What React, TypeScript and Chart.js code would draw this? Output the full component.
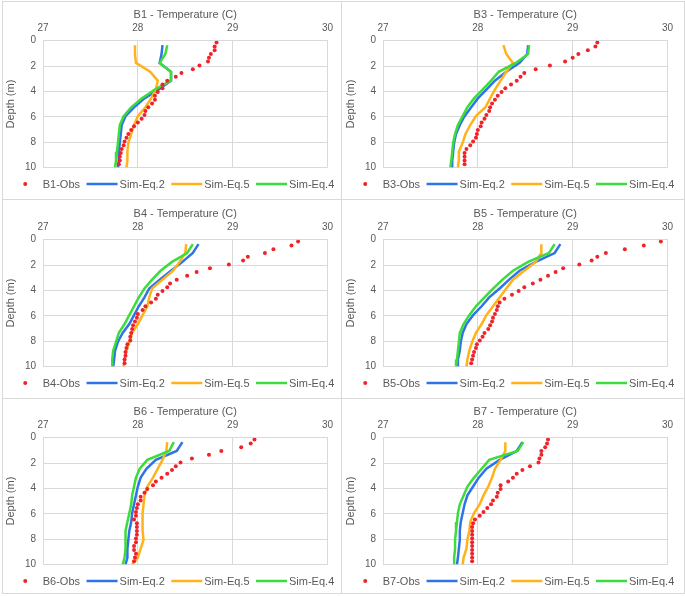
import React, { useEffect, useRef } from "react";
import { Chart, registerables } from "chart.js";

Chart.register(...registerables);

// ---------- data ----------
const obsDepths = [0.15, 0.45, 0.75, 1.05, 1.35, 1.65, 1.95, 2.25, 2.55, 2.85, 3.15, 3.45, 3.75, 4.05, 4.35, 4.65, 4.95, 5.25, 5.55, 5.85, 6.15, 6.45, 6.75, 7.05, 7.35, 7.65, 7.95, 8.25, 8.55, 8.85, 9.15, 9.45, 9.75];
const simDepths = [0.35, 1.05, 1.75, 2.45, 3.15, 3.85, 4.55, 5.25, 5.95, 6.65, 7.35, 8.05, 8.75, 9.45, 10];
const seriesNames = ["Obs", "Sim-Eq.2", "Sim-Eq.5", "Sim-Eq.4"];
const panelNames = ["B1", "B3", "B4", "B5", "B6", "B7"];

const b1Obs = [28.83, 28.81, 28.81, 28.77, 28.75, 28.74, 28.65, 28.58, 28.46, 28.40, 28.31, 28.26, 28.26, 28.21, 28.18, 28.18, 28.15, 28.11, 28.08, 28.07, 28.04, 28.00, 27.96, 27.93, 27.90, 27.88, 27.86, 27.85, 27.83, 27.82, 27.81, 27.81, 27.80];
const b1Eq2 = [28.26, 28.25, 28.23, 28.35, 28.35, 28.22, 28.07, 27.96, 27.87, 27.83, 27.82, 27.81, 27.80, 27.80, 27.79];
const b1Eq5 = [27.97, 27.97, 27.98, 28.13, 28.21, 28.19, 28.14, 28.08, 28.00, 27.96, 27.93, 27.90, 27.89, 27.89, 27.88];
const b1Eq4 = [28.31, 28.29, 28.23, 28.35, 28.35, 28.18, 28.04, 27.93, 27.85, 27.81, 27.80, 27.79, 27.78, 27.77, 27.76];

const b3Obs = [29.26, 29.24, 29.16, 29.06, 29.00, 28.92, 28.76, 28.61, 28.49, 28.45, 28.41, 28.35, 28.29, 28.25, 28.21, 28.18, 28.15, 28.13, 28.12, 28.09, 28.07, 28.04, 28.03, 28.00, 27.99, 27.98, 27.95, 27.92, 27.88, 27.86, 27.86, 27.86, 27.86];
const b3Eq2 = [28.53, 28.52, 28.44, 28.30, 28.18, 28.09, 28.00, 27.93, 27.86, 27.81, 27.77, 27.75, 27.74, 27.73, 27.73];
const b3Eq5 = [28.27, 28.30, 28.37, 28.30, 28.24, 28.18, 28.13, 28.08, 27.98, 27.92, 27.87, 27.84, 27.80, 27.80, 27.79];
const b3Eq4 = [28.54, 28.53, 28.40, 28.22, 28.14, 28.05, 27.96, 27.89, 27.84, 27.79, 27.76, 27.74, 27.73, 27.72, 27.71];

const b4Obs = [29.69, 29.62, 29.43, 29.34, 29.16, 29.11, 28.96, 28.76, 28.62, 28.52, 28.41, 28.34, 28.31, 28.26, 28.21, 28.19, 28.14, 28.08, 28.05, 28.00, 27.99, 27.97, 27.95, 27.94, 27.93, 27.92, 27.92, 27.89, 27.88, 27.87, 27.87, 27.86, 27.86];
const b4Eq2 = [28.64, 28.58, 28.47, 28.35, 28.23, 28.12, 28.07, 28.01, 27.96, 27.91, 27.84, 27.79, 27.76, 27.75, 27.74];
const b4Eq5 = [28.51, 28.50, 28.44, 28.37, 28.26, 28.15, 28.12, 28.10, 28.05, 28.00, 27.94, 27.91, 27.88, 27.86, 27.85];
const b4Eq4 = [28.58, 28.52, 28.36, 28.24, 28.15, 28.07, 28.01, 27.96, 27.91, 27.86, 27.80, 27.77, 27.74, 27.73, 27.73];

const b5Obs = [29.93, 29.75, 29.55, 29.35, 29.26, 29.20, 29.07, 28.90, 28.82, 28.74, 28.66, 28.58, 28.49, 28.43, 28.36, 28.28, 28.23, 28.21, 28.20, 28.18, 28.16, 28.15, 28.13, 28.11, 28.07, 28.05, 28.02, 27.99, 27.98, 27.96, 27.95, 27.94, 27.93];
const b5Eq2 = [28.87, 28.81, 28.61, 28.44, 28.33, 28.23, 28.12, 28.04, 27.95, 27.88, 27.84, 27.82, 27.81, 27.79, 27.79];
const b5Eq5 = [28.67, 28.67, 28.61, 28.49, 28.37, 28.30, 28.23, 28.16, 28.09, 28.04, 27.98, 27.94, 27.91, 27.89, 27.88];
const b5Eq4 = [28.81, 28.75, 28.53, 28.37, 28.26, 28.16, 28.07, 27.98, 27.91, 27.85, 27.81, 27.80, 27.79, 27.78, 27.77];

const b6Obs = [29.23, 29.19, 29.09, 28.88, 28.75, 28.57, 28.45, 28.40, 28.36, 28.31, 28.25, 28.19, 28.16, 28.10, 28.07, 28.03, 28.03, 28.00, 27.99, 27.98, 27.98, 27.96, 27.99, 27.99, 27.99, 27.99, 27.98, 27.98, 27.96, 27.96, 27.98, 27.97, 27.96];
const b6Eq2 = [28.47, 28.41, 28.19, 28.09, 28.03, 28.00, 27.98, 27.96, 27.94, 27.93, 27.91, 27.90, 27.89, 27.89, 27.87];
const b6Eq5 = [28.31, 28.30, 28.26, 28.21, 28.16, 28.10, 28.07, 28.06, 28.05, 28.05, 28.05, 28.06, 28.03, 28.00, 27.94];
const b6Eq4 = [28.38, 28.33, 28.10, 28.02, 27.98, 27.96, 27.94, 27.93, 27.91, 27.89, 27.87, 27.87, 27.87, 27.86, 27.84];

const b7Obs = [28.74, 28.73, 28.71, 28.67, 28.67, 28.65, 28.64, 28.55, 28.47, 28.41, 28.37, 28.32, 28.24, 28.24, 28.21, 28.20, 28.16, 28.14, 28.10, 28.06, 28.02, 27.97, 27.95, 27.94, 27.94, 27.94, 27.94, 27.94, 27.94, 27.94, 27.94, 27.94, 27.94];
const b7Eq2 = [28.47, 28.41, 28.23, 28.09, 28.01, 27.95, 27.89, 27.86, 27.84, 27.82, 27.81, 27.81, 27.80, 27.79, 27.78];
const b7Eq5 = [28.29, 28.29, 28.24, 28.18, 28.15, 28.11, 28.06, 28.02, 27.96, 27.92, 27.91, 27.89, 27.88, 27.85, 27.84];
const b7Eq4 = [28.48, 28.42, 28.12, 28.04, 27.96, 27.89, 27.85, 27.81, 27.79, 27.78, 27.77, 27.76, 27.76, 27.75, 27.75];

// ---------- style ----------
const FONT = "'Liberation Sans', Arial, sans-serif";
const TEXT = "#595959";
const GRID = "#d9d9d9";
const RED = "#f0222a";
const BLUE = "#2e74e6";
const ORANGE = "#ffb21a";
const GREEN = "#3cdc3c";

const panels = [
  { name: panelNames[0], obs: b1Obs, eq2: b1Eq2, eq5: b1Eq5, eq4: b1Eq4 },
  { name: panelNames[1], obs: b3Obs, eq2: b3Eq2, eq5: b3Eq5, eq4: b3Eq4 },
  { name: panelNames[2], obs: b4Obs, eq2: b4Eq2, eq5: b4Eq5, eq4: b4Eq4 },
  { name: panelNames[3], obs: b5Obs, eq2: b5Eq2, eq5: b5Eq5, eq4: b5Eq4 },
  { name: panelNames[4], obs: b6Obs, eq2: b6Eq2, eq5: b6Eq5, eq4: b6Eq4 },
  { name: panelNames[5], obs: b7Obs, eq2: b7Eq2, eq5: b7Eq5, eq4: b7Eq4 },
];

const CW = 338;
const CH = 196;
const colX = [3, 343];
const rowY = [2, 201, 399];

const legendPlugin = {
  id: "excelLegend",
  afterDraw(chart: any) {
    const ctx = chart.ctx as CanvasRenderingContext2D;
    const ds = chart.data.datasets;
    ctx.save();
    ctx.font = `11px ${FONT}`;
    const sym = 31;
    const gapText = 2;
    const gapItem = 6.5;
    const widths = ds.map((d: any) => ctx.measureText(d.label).width);
    const total = widths.reduce((a: number, w: number) => a + sym + gapText + w, 0) + gapItem * (ds.length - 1);
    let x = (chart.width - total) / 2;
    const y = chart.chartArea.bottom + 16.5;
    ds.forEach((d: any, i: number) => {
      if (d.showLine) {
        ctx.strokeStyle = d.borderColor;
        ctx.lineWidth = d.borderWidth;
        ctx.lineCap = "butt";
        ctx.beginPath();
        ctx.moveTo(x, y);
        ctx.lineTo(x + sym, y);
        ctx.stroke();
      } else {
        ctx.fillStyle = d.backgroundColor;
        ctx.beginPath();
        ctx.arc(x + sym / 2, y, 2, 0, Math.PI * 2);
        ctx.fill();
      }
      ctx.fillStyle = TEXT;
      ctx.textBaseline = "middle";
      ctx.textAlign = "left";
      ctx.fillText(d.label, x + sym + gapText, y + 0.5);
      x += sym + gapText + widths[i] + gapItem;
    });
    ctx.restore();
  },
};

function Panel({ p, left, top }: { p: any; left: number; top: number }) {
  const ref = useRef<HTMLCanvasElement | null>(null);
  useEffect(() => {
    if (!ref.current) return;
    const toPts = (temps: number[], depths: number[]) => temps.map((t, i) => ({ x: t, y: depths[i] }));
    const lineDs = (label: string, temps: number[], color: string, order: number) => ({
      label,
      data: toPts(temps, simDepths),
      showLine: true,
      borderColor: color,
      backgroundColor: color,
      borderWidth: 2.5,
      pointRadius: 0,
      tension: 0,
      order,
    });
    const chart = new Chart(ref.current, {
      type: "scatter",
      data: {
        datasets: [
          {
            label: `${p.name}-${seriesNames[0]}`,
            data: toPts(p.obs, obsDepths),
            showLine: false,
            backgroundColor: RED,
            borderColor: RED,
            borderWidth: 0,
            pointRadius: 2,
            order: 0,
          },
          lineDs(seriesNames[1], p.eq2, BLUE, 3),
          lineDs(seriesNames[2], p.eq5, ORANGE, 2),
          lineDs(seriesNames[3], p.eq4, GREEN, 1),
        ],
      } as any,
      options: {
        animation: false,
        responsive: false,
        events: [],
        layout: { padding: { left: 0, right: 13.5, top: 0, bottom: 30.5 } },
        plugins: {
          legend: { display: false },
          tooltip: { enabled: false },
          title: {
            display: true,
            fullSize: false,
            text: `${p.name} - Temperature (C)`,
            color: TEXT,
            font: { family: FONT, size: 11, weight: "normal" },
            padding: { top: 6, bottom: 0 },
          },
        },
        scales: {
          x: {
            type: "linear",
            position: "top",
            min: 27,
            max: 30,
            ticks: { stepSize: 1, color: TEXT, font: { family: FONT, size: 10 }, padding: 6 },
            grid: { color: GRID, drawTicks: false, lineWidth: 1 },
            border: { color: GRID, width: 1 },
            afterFit: (s: any) => {
              s.height = 19.5;
            },
          },
          y: {
            type: "linear",
            reverse: true,
            min: 0,
            max: 10,
            ticks: { stepSize: 2, color: TEXT, font: { family: FONT, size: 10 }, padding: 7 },
            grid: { color: GRID, drawTicks: false, lineWidth: 1 },
            border: { color: GRID, width: 1 },
            title: {
              display: true,
              text: "Depth (m)",
              color: TEXT,
              font: { family: FONT, size: 11, weight: "normal" },
              padding: { top: 1.5, bottom: 0 },
            },
            afterFit: (s: any) => {
              s.width = 40;
            },
          },
        },
      } as any,
      plugins: [legendPlugin],
    });
    return () => chart.destroy();
  }, [p]);
  return (
    <canvas
      ref={ref}
      width={CW}
      height={CH}
      style={{ position: "absolute", left, top, width: CW, height: CH }}
    />
  );
}

const boxes = [
  { left: 2, top: 1, width: 340, height: 199 },
  { left: 341, top: 1, width: 344, height: 199 },
  { left: 2, top: 199, width: 340, height: 200 },
  { left: 341, top: 199, width: 344, height: 200 },
  { left: 2, top: 398, width: 340, height: 196 },
  { left: 341, top: 398, width: 344, height: 196 },
];

export default function App() {
  return (
    <div style={{ position: "fixed", left: 0, top: 0, width: 685, height: 596, background: "#ffffff", overflow: "hidden" }}>
      {panels.map((p, i) => (
        <Panel key={p.name} p={p} left={colX[i % 2]} top={rowY[Math.floor(i / 2)]} />
      ))}
      {boxes.map((b, i) => (
        <div
          key={i}
          style={{
            position: "absolute",
            left: b.left,
            top: b.top,
            width: b.width,
            height: b.height,
            boxSizing: "border-box",
            border: `1px solid ${GRID}`,
            pointerEvents: "none",
          }}
        />
      ))}
    </div>
  );
}
